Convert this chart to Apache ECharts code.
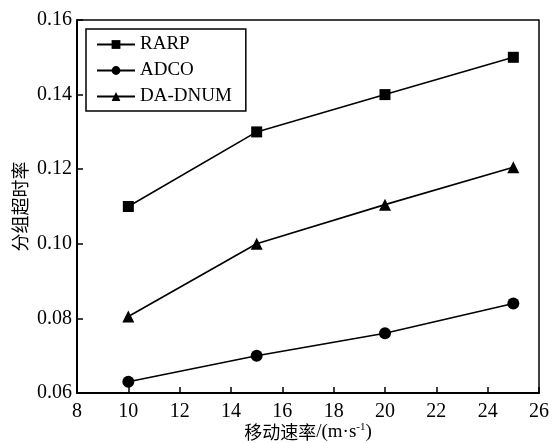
<!DOCTYPE html>
<html>
<head>
<meta charset="utf-8">
<script src="https://cdn.jsdelivr.net/npm/echarts@6/dist/echarts.min.js"></script>
<style>
  html, body { margin: 0; padding: 0; background: #fff; }
  #main { width: 554px; height: 443px; }
</style>
</head>
<body>
<div id="main"></div>
<script>
// 横轴：移动速率
const speeds = [10, 15, 20, 25]
// 各协议的分组超时率
const rarp = [0.110, 0.130, 0.140, 0.150]
const adco = [0.063, 0.070, 0.076, 0.084]
const daDnum = [0.0805, 0.100, 0.1105, 0.1205]

const seriesNames = ['RARP', 'ADCO', 'DA-DNUM']
const seriesSymbols = ['rect', 'circle', 'triangle']

const serif = 'Liberation Serif'
const cjk = 'Noto Sans CJK SC'

const myChart = echarts.init(document.querySelector('#main'))

function pairs(ys) {
  return speeds.map((x, i) => [x, ys[i]])
}

const option = {
  backgroundColor: '#fff',
  animation: false,
  grid: {
    left: 77,
    right: 15,
    top: 20,
    bottom: 50,
    outerBoundsMode: 'none',
    containLabel: false
  },
  legend: {
    orient: 'vertical',
    left: 86,
    top: 29,
    itemWidth: 38,
    itemHeight: 11,
    itemGap: 7,
    padding: [6, 14, 5, 10],
    borderColor: '#000',
    borderWidth: 1.5,
    borderRadius: 0,
    textStyle: {
      fontFamily: serif,
      fontSize: 19,
      color: '#000'
    },
    data: seriesNames
  },
  xAxis: {
    type: 'value',
    min: 8,
    max: 26,
    interval: 2,
    name: '{cn|移动速率}{en|/(m·s}{sup|-1}{en|)}',
    nameLocation: 'middle',
    nameGap: 29,
    nameMoveOverlap: false,
    nameTextStyle: {
      color: '#000',
      rich: {
        cn: { fontFamily: cjk, fontSize: 18, color: '#000' },
        en: { fontFamily: serif, fontSize: 19, color: '#000' },
        sup: {
          fontFamily: serif,
          fontSize: 11,
          verticalAlign: 'top',
          padding: [0, 0, 10, 0],
          color: '#000'
        }
      }
    },
    axisLine: { lineStyle: { color: '#000', width: 2 } },
    axisTick: { inside: true, length: 6, lineStyle: { color: '#000', width: 1.5 } },
    axisLabel: {
      fontFamily: serif,
      fontSize: 20,
      color: '#000',
      margin: 9
    },
    splitLine: { show: false }
  },
  yAxis: [
    {
      type: 'value',
      min: 0.06,
      max: 0.16,
      interval: 0.02,
      name: '分组超时率',
      nameLocation: 'middle',
      nameGap: 48,
      nameMoveOverlap: false,
      nameRotate: 90,
      nameTextStyle: {
        fontFamily: cjk,
        fontSize: 18,
        color: '#000'
      },
      axisLine: { show: true, lineStyle: { color: '#000', width: 2 } },
      axisTick: { inside: true, length: 6, lineStyle: { color: '#000', width: 1.5 } },
      axisLabel: {
        fontFamily: serif,
        fontSize: 20,
        color: '#000',
        margin: 5,
        formatter: v => v.toFixed(2)
      },
      splitLine: { show: false }
    },
    {
      type: 'value',
      position: 'right',
      min: 0.06,
      max: 0.16,
      interval: 0.02,
      axisLine: { show: true, lineStyle: { color: '#000', width: 1.5 } },
      axisTick: { show: false },
      axisLabel: { show: false },
      splitLine: { show: false }
    }
  ],
  series: [rarp, adco, daDnum].map((ys, i) => ({
    name: seriesNames[i],
    type: 'line',
    data: pairs(ys),
    symbol: seriesSymbols[i],
    symbolSize: i === 0 ? 11 : 12,
    lineStyle: { color: '#000', width: 1.6 },
    itemStyle: { color: '#000' }
  })),
  graphic: [
    {
      type: 'line',
      shape: { x1: 77, y1: 20, x2: 539, y2: 20 },
      style: { stroke: '#000', lineWidth: 1.5 }
    }
  ]
}

myChart.setOption(option)
</script>
</body>
</html>
